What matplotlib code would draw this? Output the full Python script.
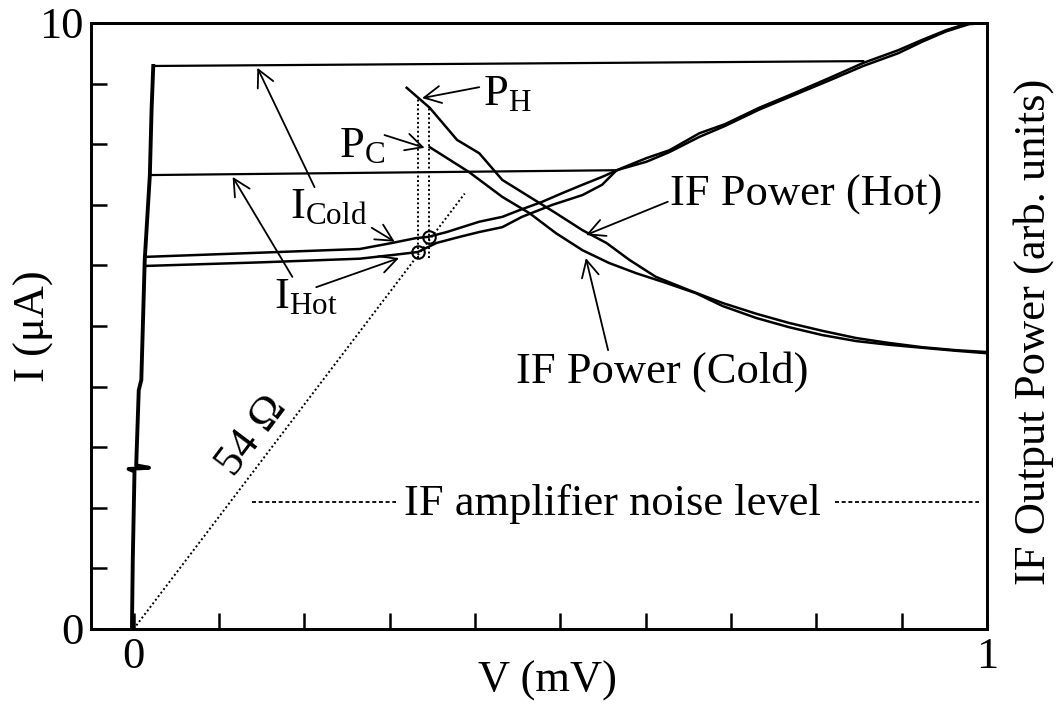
import numpy as np
import matplotlib
matplotlib.use('Agg')
import matplotlib.pyplot as plt

plt.rcParams['font.family'] = ['Liberation Serif', 'DejaVu Serif']
plt.rcParams['mathtext.fontset'] = 'custom'
plt.rcParams['mathtext.rm'] = 'Liberation Serif'
plt.rcParams['mathtext.it'] = 'Liberation Serif:italic'

### ------ Data (V in mV, I in uA, P arb.) ------

# supercurrent branch (shared by both I-V curves)
sc_v = [-0.002, -0.001, 0.001, -0.006, 0.018, 0.003, 0.006, 0.009, 0.013, 0.019, 0.021, 0.023]
sc_i = [0.0, 1.14, 2.60, 2.64, 2.66, 2.70, 3.94, 4.11, 6.09, 7.49, 8.56, 9.29]

# switching jumps
cold_jump_v = [0.023, 0.855]
cold_jump_i = [9.29, 9.37]
hot_jump_v = [0.019, 0.566]
hot_jump_i = [7.49, 7.57]

# resistive branch and return, cold load
cold_rn_v = [1.000, 0.979, 0.952, 0.924, 0.896, 0.855, 0.815, 0.774, 0.733, 0.693,
             0.663, 0.628, 0.601, 0.573, 0.549, 0.526, 0.502, 0.479, 0.452, 0.432,
             0.405, 0.367, 0.345, 0.331, 0.303, 0.265, 0.150, 0.014]
cold_rn_i = [10.00, 10.00, 9.88, 9.72, 9.55, 9.34, 9.09, 8.84, 8.60, 8.33,
             8.18, 7.90, 7.77, 7.61, 7.46, 7.33, 7.19, 7.05, 6.91, 6.80,
             6.72, 6.55, 6.47, 6.45, 6.37, 6.27, 6.21, 6.14]

# resistive branch and return, hot load
hot_rn_v = [1.000, 0.979, 0.952, 0.924, 0.896, 0.855, 0.815, 0.774, 0.733, 0.693,
            0.663, 0.628, 0.601, 0.566, 0.549, 0.526, 0.491, 0.455, 0.432, 0.405,
            0.382, 0.355, 0.333, 0.303, 0.265, 0.150, 0.013]
hot_rn_i = [10.00, 9.98, 9.86, 9.69, 9.50, 9.29, 9.05, 8.81, 8.57, 8.30,
            8.12, 7.87, 7.71, 7.57, 7.33, 7.16, 7.00, 6.80, 6.63, 6.55,
            6.47, 6.37, 6.22, 6.17, 6.11, 6.05, 5.99]

# IF output power
ph_v = [0.320, 0.347, 0.379, 0.405, 0.432, 0.464, 0.495, 0.526, 0.554, 0.581,
        0.612, 0.651, 0.690, 0.730, 0.768, 0.807, 0.847, 0.885, 0.924, 0.964, 1.000]
ph_p = [8.93, 8.60, 8.07, 7.85, 7.41, 7.13, 6.86, 6.58, 6.37, 6.09,
        5.81, 5.59, 5.38, 5.20, 5.05, 4.92, 4.80, 4.72, 4.65, 4.60, 4.57]
pc_v = [0.347, 0.393, 0.432, 0.464, 0.495, 0.526, 0.557, 0.589, 0.624, 0.659,
        0.690, 0.730, 0.768, 0.807, 0.847, 0.885, 0.924, 0.964, 1.000]
pc_p = [7.95, 7.54, 7.13, 6.86, 6.53, 6.25, 6.04, 5.87, 5.71, 5.54,
        5.33, 5.13, 4.98, 4.85, 4.75, 4.69, 4.64, 4.59, 4.55]

# bias points (hot, cold) and their P readings
bias_v = [0.333, 0.346]
bias_i = [6.22, 6.47]
bias_top = [8.75, 8.60]
bias_bottom = 6.12

noise_p = 2.1
noise_left = [0.139, 0.308]
noise_right = [0.822, 0.991]

r_load = 0.054   # kOhm -> 54 Ohm line, I = V / R
r_vmax = 0.388

### ------ Plot ------

fs = 32
fig = plt.figure(figsize=(10.64, 7.06), dpi=100)
ax = fig.add_axes([0.0855, 0.1091, 0.8421, 0.8584])
ax2 = ax.twinx()

ax.set_xlim(-0.05, 1.0)
ax.set_ylim(0, 10)
ax2.set_ylim(0, 10)

for a in (ax, ax2):
    for s in a.spines.values():
        s.set_linewidth(2.0)

# I-V curves
ax.plot(sc_v, sc_i, color='k', lw=2.8, solid_joinstyle='round')
ax.plot(cold_jump_v, cold_jump_i, color='k', lw=1.6)
ax.plot(hot_jump_v, hot_jump_i, color='k', lw=1.6)
ax.plot(cold_rn_v, cold_rn_i, color='k', lw=1.8)
ax.plot(hot_rn_v, hot_rn_i, color='k', lw=1.8)

# 54 Ohm load line
vr = np.array([0.0, r_vmax])
ax.plot(vr, vr / r_load, color='k', lw=1.4, ls=(0, (1, 1.3)))

# bias verticals and circles
for bv, bt in zip(bias_v, bias_top):
    ax.plot([bv, bv], [bias_bottom, bt], color='k', lw=1.4, ls=(0, (1, 1.3)))
ax.plot(bias_v, bias_i, ls='none', marker='o', ms=9, mfc='none', mec='k', mew=1.5)

# IF power
ax2.plot(ph_v, ph_p, color='k', lw=1.8)
ax2.plot(pc_v, pc_p, color='k', lw=1.8)
ax2.plot(noise_left, [noise_p, noise_p], color='k', lw=1.3, ls=(0, (2.2, 1.5)))
ax2.plot(noise_right, [noise_p, noise_p], color='k', lw=1.3, ls=(0, (2.2, 1.5)))

# ticks
ax.set_xticks(np.round(np.arange(0, 1.01, 0.1), 1))
ax.set_xticklabels(['0'] + [''] * 9 + ['1'])
ax.set_yticks(np.arange(0, 11, 1))
ax.set_yticklabels(['0'] + [''] * 9 + ['10'])
ax.tick_params(axis='both', direction='in', length=11.5, width=1.8, labelsize=fs)
ax.tick_params(axis='x', pad=6)
ax.tick_params(axis='y', pad=5)
ax.tick_params(top=False, right=False)
ax2.set_yticks([])

ax.set_xlabel('V (mV)', fontsize=fs)
ax.set_ylabel('I (\u03bcA)', fontsize=fs)
ax2.set_ylabel('IF Output Power (arb. units)', fontsize=fs)
ax.xaxis.set_label_coords(0.51, -0.052)
ax.yaxis.set_label_coords(-0.041, 0.5)
ax2.yaxis.set_label_coords(1.029, 0.49)

# labels and arrows
arw = dict(arrowstyle='->,head_length=0.55,head_width=0.28', lw=1.3, color='k',
           shrinkA=0, shrinkB=0, mutation_scale=22)

def arrow(tail, tip):
    ax.annotate('', xy=tip, xytext=tail, arrowprops=arw)

ax.text(0.409, 8.65, r'P$_\mathrm{H}$', fontsize=fs, ha='left', va='baseline')
arrow((0.405, 8.94), (0.338, 8.76))
ax.text(0.241, 7.79, r'P$_\mathrm{C}$', fontsize=fs, ha='left', va='baseline')
arrow((0.294, 8.15), (0.341, 7.94))

ax.text(0.183, 6.78, r'I$_\mathrm{Cold}$', fontsize=fs, ha='left', va='baseline')
arrow((0.212, 7.29), (0.145, 9.26))
arrow((0.279, 6.62), (0.306, 6.39))
ax.text(0.165, 5.30, r'I$_\mathrm{Hot}$', fontsize=fs, ha='left', va='baseline')
arrow((0.186, 5.81), (0.116, 7.46))
arrow((0.214, 5.64), (0.311, 6.12))

ax.text(0.629, 6.98, 'IF Power (Hot)', fontsize=fs, ha='left', va='baseline')
arrow((0.626, 7.05), (0.530, 6.50))
ax.text(0.448, 4.06, 'IF Power (Cold)', fontsize=fs, ha='left', va='baseline')
arrow((0.556, 4.60), (0.530, 6.12))

ax.text(0.317, 1.88, 'IF amplifier noise level', fontsize=fs, ha='left', va='baseline')
ax.text(0.139, 3.18, '54 \u03a9', fontsize=fs, ha='center', va='center', rotation=53,
        rotation_mode='anchor')

fig.savefig('out.png', dpi=100, facecolor='white')
